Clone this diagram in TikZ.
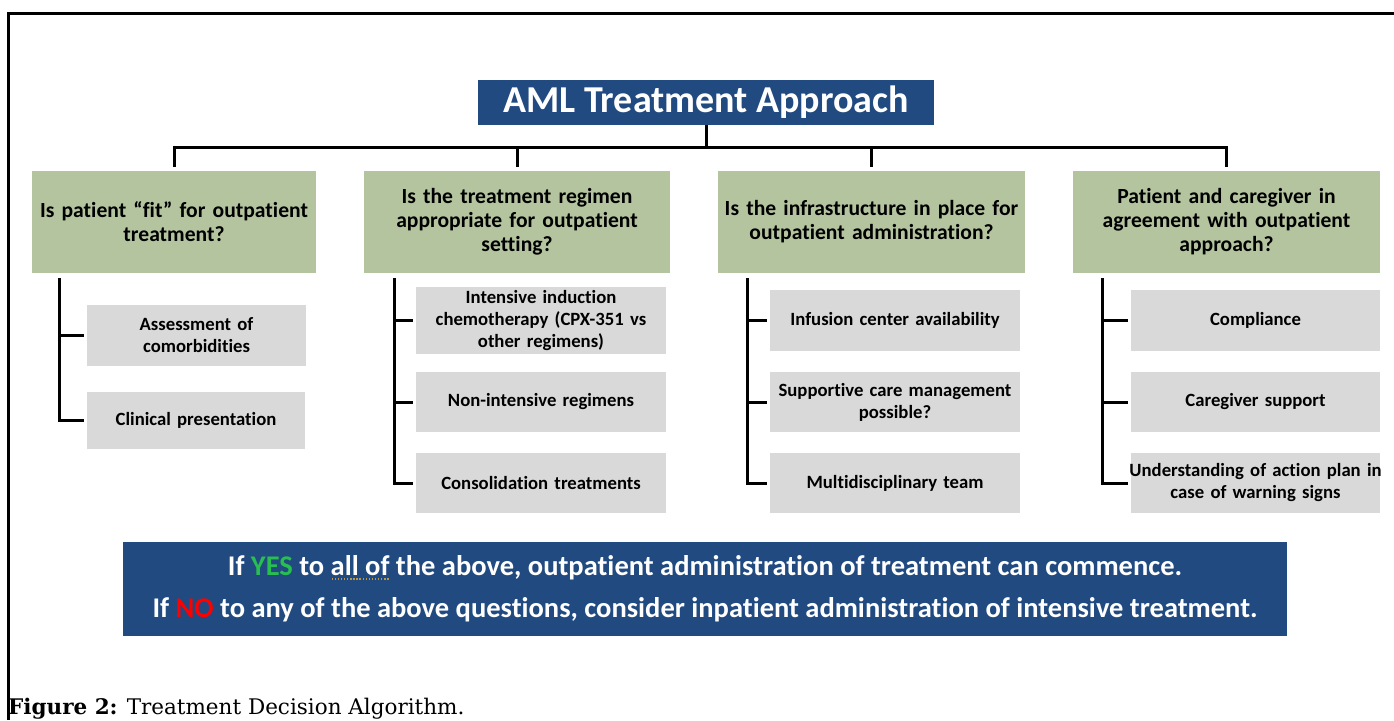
\documentclass[tikz,border=0pt]{standalone}
\usepackage{fontspec}
\setmainfont{Carlito}[Ligatures=NoCommon]
\newfontfamily\capfont{DejaVu Serif}

\definecolor{navy}{RGB}{33,74,128}
\definecolor{sage}{RGB}{180,196,158}
\definecolor{pale}{RGB}{217,217,217}
\definecolor{yesgreen}{RGB}{40,190,80}
\definecolor{nored}{RGB}{255,0,0}
\definecolor{squig}{RGB}{190,150,60}

% dotted mark under words
\newsavebox\spellbox
\newcommand\spellmark[1]{\sbox\spellbox{#1}\leavevmode
  \rlap{\lower4pt\hbox to\wd\spellbox{\color{squig}\xleaders\hbox to 3pt{\hss\rule{1.4pt}{1.4pt}\hss}\hfill}}\usebox\spellbox}

\begin{document}
\begin{tikzpicture}[x=1pt,y=-1pt,
  link/.style={line width=3pt},
  tick/.style={link,shorten >=3pt},
  question/.style={fill=sage,text width=#1,inner xsep=0pt,minimum height=102pt,
    align=center,font=\bfseries\fontsize{21.6}{24}\selectfont},
  option/.style={fill=pale,text width=#1,inner xsep=0pt,minimum height=61pt,
    align=center,font=\bfseries\fontsize{18.7}{22}\selectfont}]
\useasboundingbox (0,0) rectangle (1394,720);
\draw[link] (8,720) -- (8,13) -- (1394,13);

\node[fill=navy,text=white,minimum width=456pt,minimum height=45pt,
  font=\bfseries\fontsize{38}{38}\selectfont] (title) at (706,102.5) {AML Treatment Approach};

% questions
\node[question=284pt] (fit) at (174,222) {Is patient “fit” for outpatient\\treatment?};
\node[question=306pt] (regimen) at (517,222) {Is the treatment regimen\\appropriate for outpatient\\setting?};
\node[question=307pt] (infra) at (871.5,222) {Is the infrastructure in place for\\outpatient administration?};
\node[question=307pt] (agree) at (1226.5,222) {Patient and caregiver in\\agreement with outpatient\\approach?};

\coordinate (bus) at (706,147);
\draw[link] (title) -- (bus);
\draw[link] ([yshift=4pt]fit.north) -- (fit.north |- bus) -- (agree.north |- bus) -- ([yshift=4pt]agree.north);
\draw[link] ([yshift=4pt]regimen.north) |- (bus);
\draw[link] ([yshift=4pt]infra.north) |- (bus);

% column 1
\node[option=219pt] (comorb) at (196.5,335.5) {Assessment of\\comorbidities};
\node[option=218pt,minimum height=57pt] (clinical) at (196,420.5) {Clinical presentation};
\coordinate (c1) at ([xshift=28pt,yshift=-5pt]fit.south west);
\draw[tick] (c1) |- (clinical);
\draw[tick] (c1 |- comorb) -- (comorb);

% column 2
\node[option=250pt] (intensive) at (541,320.5) {Intensive induction\\chemotherapy (CPX-351 vs\\other regimens)};
\node[option=250pt,minimum height=60pt] (nonint) at (541,402) {Non-intensive regimens};
\node[option=250pt,minimum height=60pt] (consol) at (541,483) {Consolidation treatments};
\coordinate (c2) at ([xshift=31pt,yshift=-5pt]regimen.south west);
\draw[tick] (c2) |- (consol);
\draw[tick] (c2 |- intensive) -- (intensive);
\draw[tick] (c2 |- nonint) -- (nonint);

% column 3
\node[option=250pt] (infusion) at (895,320.5) {Infusion center availability};
\node[option=250pt,minimum height=60pt] (supportive) at (895,402) {Supportive care management\\possible?};
\node[option=250pt,minimum height=60pt] (team) at (895,483) {Multidisciplinary team};
\coordinate (c3) at ([xshift=30pt,yshift=-5pt]infra.south west);
\draw[tick] (c3) |- (team);
\draw[tick] (c3 |- infusion) -- (infusion);
\draw[tick] (c3 |- supportive) -- (supportive);

% column 4
\node[option=249pt] (compliance) at (1255.5,320.5) {Compliance};
\node[option=249pt,minimum height=60pt] (caregiver) at (1255.5,402) {Caregiver support};
\node[option=249pt,minimum height=60pt] (understand) at (1255.5,483)
  {\makebox[\linewidth][c]{Understanding of action plan in}\\case of warning signs};
\coordinate (c4) at ([xshift=30pt,yshift=-5pt]agree.south west);
\draw[tick] (c4) |- (understand);
\draw[tick] (c4 |- compliance) -- (compliance);
\draw[tick] (c4 |- caregiver) -- (caregiver);

% verdict
\node[fill=navy,text=white,minimum width=1164pt,minimum height=94pt,align=center,
  font=\bfseries\fontsize{28.5}{42}\selectfont] (verdict) at (705,589)
  {If \textcolor{yesgreen}{YES} to \spellmark{all of} the above, outpatient administration of treatment can commence.\\
   If \textcolor{nored}{NO} to any of the above questions, consider inpatient administration of intensive treatment.};

\node[anchor=base west,inner sep=0pt,font=\capfont\fontsize{21.5}{21.5}\selectfont] (caption) at (8,714)
  {\textbf{Figure 2:} Treatment Decision Algorithm.};
\end{tikzpicture}
\end{document}
